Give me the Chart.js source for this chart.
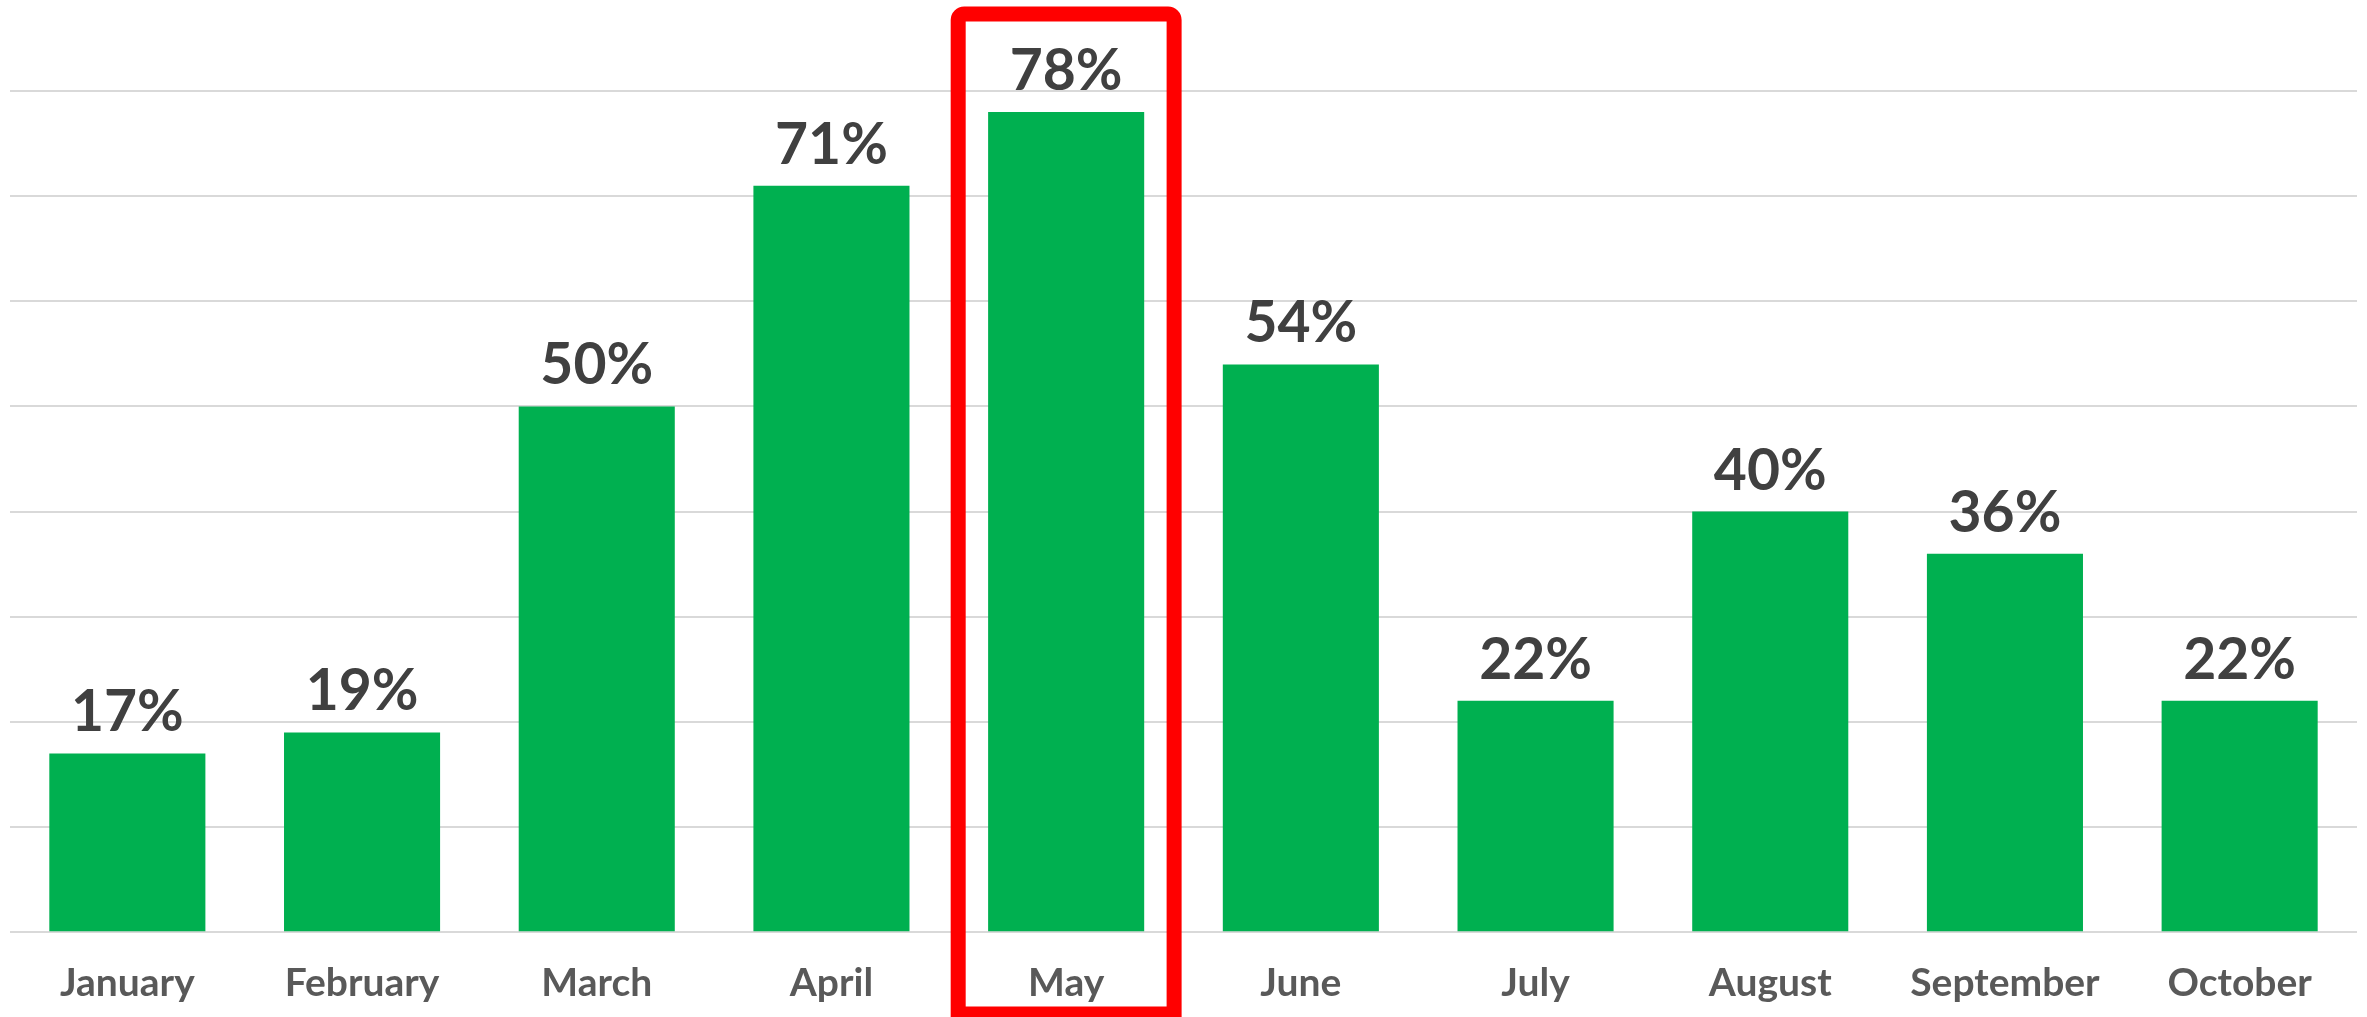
<!DOCTYPE html>
<html>
<head>
<meta charset="utf-8">
<script src="https://cdn.jsdelivr.net/npm/chart.js@4.4.0/dist/chart.umd.min.js"></script>
<style>
  html, body { margin: 0; padding: 0; background: #ffffff; }
  #wrap { width: 2367px; height: 1017px; }
</style>
</head>
<body>
<div id="wrap"><canvas id="monthChart" width="2367" height="1017"></canvas></div>
<script>
// chart data
const months = ["January", "February", "March", "April", "May", "June", "July", "August", "September", "October"];
const shares = [17, 19, 50, 71, 78, 54, 22, 40, 36, 22];
const yTicks = [0, 10, 20, 30, 40, 50, 60, 70, 80];
const highlightIndex = 4; // May gets the red frame

const FONT = "'Century Gothic', Lato, 'DejaVu Sans', sans-serif";

// value labels above each bar
const barLabels = {
  id: "barLabels",
  afterDatasetsDraw(chart) {
    const ctx = chart.ctx;
    const meta = chart.getDatasetMeta(0);
    ctx.save();
    ctx.fillStyle = "#404040";
    ctx.font = "bold 57px " + FONT;
    ctx.textAlign = "center";
    ctx.textBaseline = "alphabetic";
    meta.data.forEach(function (bar, i) {
      ctx.fillText(shares[i] + "%", bar.x, bar.y - 22);
    });
    ctx.restore();
  },
};

// red frame round the highlighted month
const highlightFrame = {
  id: "highlightFrame",
  afterDraw(chart) {
    const x = chart.scales.x;
    const ctx = chart.ctx;
    const cx = x.getPixelForValue(highlightIndex);
    const half = (x.width / months.length) * 0.46;
    ctx.save();
    ctx.strokeStyle = "#ff0000";
    ctx.lineWidth = 15;
    ctx.beginPath();
    ctx.roundRect(cx - half, 14, half * 2, 1000, [6, 6, 0, 0]);
    ctx.stroke();
    ctx.restore();
  },
};

new Chart(document.getElementById("monthChart").getContext("2d"), {
  type: "bar",
  data: {
    labels: months,
    datasets: [{
      data: shares,
      backgroundColor: "#00b050",
      borderWidth: 0,
      categoryPercentage: 1,
      barPercentage: 0.665,
    }],
  },
  options: {
    responsive: false,
    animation: false,
    layout: { padding: { top: 91, left: 10, right: 10, bottom: -10 } },
    plugins: { legend: { display: false }, tooltip: { enabled: false } },
    scales: {
      x: {
        grid: { display: false },
        border: { display: false },
        ticks: { color: "#595959", font: { family: FONT, size: 39, weight: "bold" }, padding: 20 },
      },
      y: {
        min: yTicks[0],
        max: yTicks[yTicks.length - 1],
        afterBuildTicks(axis) { axis.ticks = yTicks.map(v => ({ value: v })); },
        grid: { color: "#d9d9d9", lineWidth: 2, drawTicks: false },
        border: { display: false },
        ticks: { display: false },
      },
    },
  },
  plugins: [barLabels, highlightFrame],
});
</script>
</body>
</html>
